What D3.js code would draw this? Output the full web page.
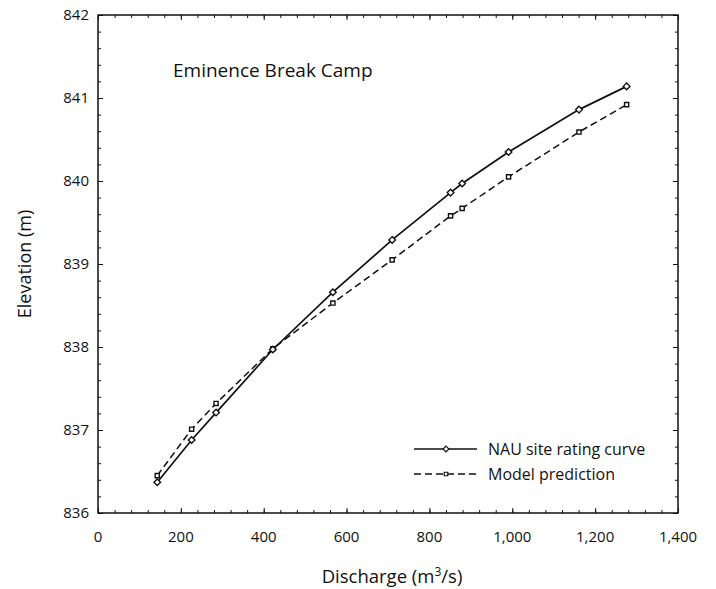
<!DOCTYPE html>
<html>
<head>
<meta charset="utf-8">
<script src="https://cdn.jsdelivr.net/npm/d3@7"></script>
<style>
body { margin: 0; background: #fff; }
text { font-family: "Open Sans", sans-serif; fill: #111; }
</style>
</head>
<body>
<script>
// discharge (m3/s) shared by both series
var discharge = [143, 226, 285, 422, 567, 710, 851, 879, 991, 1161, 1276];
var nauElev = [836.37, 836.88, 837.21, 837.97, 838.66, 839.29, 839.86, 839.97, 840.35, 840.86, 841.14];
var modelElev = [836.45, 837.01, 837.32, 837.98, 838.53, 839.05, 839.58, 839.67, 840.05, 840.59, 840.92];
var xTicks = [0, 200, 400, 600, 800, 1000, 1200, 1400];
var yTicks = [836, 837, 838, 839, 840, 841, 842];
var seriesNames = ['NAU site rating curve', 'Model prediction'];

var width = 716, height = 589;
var pLeft = 98, pRight = 678, pTop = 15, pBottom = 513;

var svg = d3.select('body').append('svg')
	.attr('width', width)
	.attr('height', height);

var x = d3.scaleLinear().domain([0, 1400]).range([pLeft, pRight]);
var y = d3.scaleLinear().domain([836, 842]).range([pBottom, pTop]);

var fmt = d3.format(',');
var xMinor = d3.range(0, 1401, 40);
var yMinor = d3.range(0, 31).map(function(i){ return 836 + i * 0.2; });

// axes, ticks pointing inward on all four sides
function axisSide(axis, ticks, size, transform) {
	var g = svg.append('g')
		.attr('transform', transform)
		.call(axis.tickValues(ticks).tickSize(size).tickFormat(''));
	g.select('.domain').remove();
	g.selectAll('line').attr('stroke', '#111').attr('stroke-width', 1);
	return g;
}
axisSide(d3.axisBottom(x), xMinor, -3, 'translate(0,' + pBottom + ')');
axisSide(d3.axisBottom(x), xTicks, -5, 'translate(0,' + pBottom + ')');
axisSide(d3.axisTop(x), xMinor, -3, 'translate(0,' + pTop + ')');
axisSide(d3.axisTop(x), xTicks, -5, 'translate(0,' + pTop + ')');
axisSide(d3.axisLeft(y), yMinor, -3, 'translate(' + pLeft + ',0)');
axisSide(d3.axisLeft(y), yTicks, -5, 'translate(' + pLeft + ',0)');
axisSide(d3.axisRight(y), yMinor, -3, 'translate(' + pRight + ',0)');
axisSide(d3.axisRight(y), yTicks, -5, 'translate(' + pRight + ',0)');

svg.append('rect')
	.attr('x', pLeft).attr('y', pTop)
	.attr('width', pRight - pLeft).attr('height', pBottom - pTop)
	.attr('fill', 'none').attr('stroke', '#111').attr('stroke-width', 1.5);

svg.append('g').selectAll('text')
	.data(xTicks).enter().append('text')
	.attr('x', function(d){ return x(d); })
	.attr('y', pBottom + 29)
	.attr('text-anchor', 'middle')
	.style('font-size', '15px')
	.text(function(d){ return fmt(d); });

svg.append('g').selectAll('text')
	.data(yTicks).enter().append('text')
	.attr('x', pLeft - 9)
	.attr('y', function(d){ return y(d); })
	.attr('dy', '0.35em')
	.attr('text-anchor', 'end')
	.style('font-size', '15px')
	.text(function(d){ return d; });

// axis titles
var xt = svg.append('text')
	.attr('x', (pLeft + pRight) / 2 + 4)
	.attr('y', 583)
	.attr('text-anchor', 'middle')
	.style('font-size', '18.5px');
xt.append('tspan').text('Discharge (m');
xt.append('tspan').attr('dy', -7).style('font-size', '12px').text('3');
xt.append('tspan').attr('dy', 7).text('/s)');

svg.append('text')
	.attr('transform', 'translate(31,' + ((pTop + pBottom) / 2) + ') rotate(-90)')
	.attr('text-anchor', 'middle')
	.style('font-size', '18px')
	.text('Elevation (m)');

svg.append('text')
	.attr('x', 173)
	.attr('y', 77)
	.style('font-size', '19px')
	.text('Eminence Break Camp');

// series
var line = d3.line()
	.x(function(d){ return x(d[0]); })
	.y(function(d){ return y(d[1]); });

var nau = discharge.map(function(d, i){ return [d, nauElev[i]]; });
var model = discharge.map(function(d, i){ return [d, modelElev[i]]; });

svg.append('path').datum(model)
	.attr('d', line).attr('fill', 'none')
	.attr('stroke', '#111').attr('stroke-width', 1.5)
	.attr('stroke-dasharray', '7,4');
svg.append('path').datum(nau)
	.attr('d', line).attr('fill', 'none')
	.attr('stroke', '#111').attr('stroke-width', 1.7);

var diamond = d3.symbol().type(d3.symbolDiamond2).size(28);
var square = d3.symbol().type(d3.symbolSquare2).size(22);

svg.append('g').selectAll('path')
	.data(model).enter().append('path')
	.attr('d', square)
	.attr('transform', function(d){ return 'translate(' + x(d[0]) + ',' + y(d[1]) + ')'; })
	.attr('fill', '#fff').attr('stroke', '#111').attr('stroke-width', 1.4);
svg.append('g').selectAll('path')
	.data(nau).enter().append('path')
	.attr('d', diamond)
	.attr('transform', function(d){ return 'translate(' + x(d[0]) + ',' + y(d[1]) + ')'; })
	.attr('fill', '#fff').attr('stroke', '#111').attr('stroke-width', 1.4);

// legend
var legend = svg.append('g').attr('transform', 'translate(414,449)');
var rows = legend.selectAll('g')
	.data(seriesNames).enter().append('g')
	.attr('transform', function(d, i){ return 'translate(0,' + (i * 25) + ')'; });
rows.append('line')
	.attr('x1', 0).attr('x2', 63).attr('y1', 0).attr('y2', 0)
	.attr('stroke', '#111')
	.attr('stroke-width', function(d, i){ return i ? 1.5 : 1.7; })
	.attr('stroke-dasharray', function(d, i){ return i ? '7,4' : null; });
rows.append('path')
	.attr('d', function(d, i){ return i ? d3.symbol().type(d3.symbolSquare2).size(16)() : d3.symbol().type(d3.symbolDiamond2).size(22)(); })
	.attr('transform', 'translate(32,0)')
	.attr('fill', '#fff').attr('stroke', '#111').attr('stroke-width', 1.2);
rows.append('text')
	.attr('x', 74)
	.attr('dy', '0.35em')
	.style('font-size', '16px')
	.text(function(d){ return d; });
</script>
</body>
</html>
